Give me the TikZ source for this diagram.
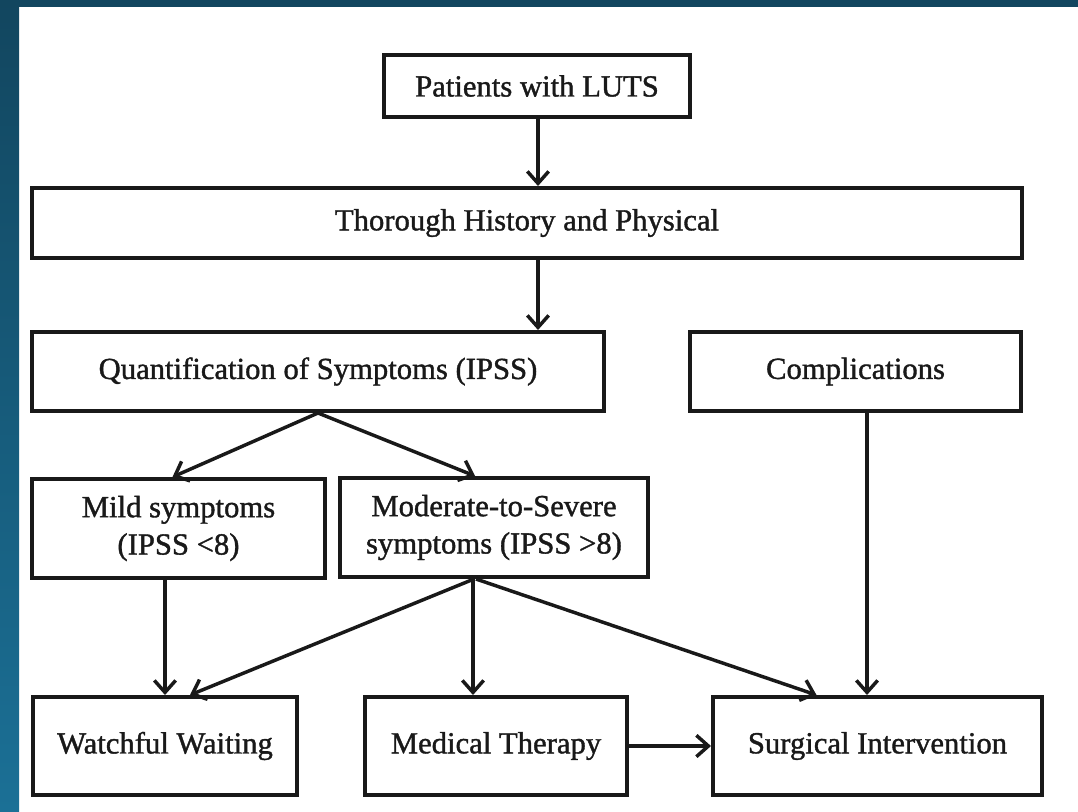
\documentclass[tikz,border=0pt]{standalone}
\usepackage{fontspec}
\setmainfont{Liberation Serif}[BoldFont={Liberation Serif}, BoldFeatures={FakeBold=1.2}]
\usetikzlibrary{arrows.meta,calc}
\definecolor{bgtop}{RGB}{18,70,95}
\definecolor{bgbot}{RGB}{27,112,150}
\definecolor{ink}{RGB}{25,25,25}
\tikzset{
  box/.style={draw=ink, line width=3pt, fill=white, rectangle, align=center,
    inner sep=0pt, text=ink, font=\fontsize{23}{28}\selectfont\bfseries},
  arr/.style={draw=ink, line width=2.6pt,
    -{Straight Barb[length=9pt,width=16pt,line width=2.6pt]}},
}
\begin{document}
\begin{tikzpicture}[x=0.75pt,y=-0.75pt]
\useasboundingbox (0,0) rectangle (1078,811);
\fill[white] (0,0) rectangle (1078,811);
\shade[top color=bgtop, bottom color=bgbot] (0,0) rectangle (19,811);
\fill[bgtop] (0,0) rectangle (1078,7);

\node[box, minimum width=229.5pt, minimum height=46.5pt] (luts) at (537,86) {Patients with LUTS};
\node[box, minimum width=742.5pt, minimum height=52.5pt] (hist) at (527,223) {Thorough History and Physical};
\node[box, minimum width=429pt, minimum height=59.25pt] (quant) at (318,371.5) {Quantification of Symptoms (IPSS)};
\node[box, minimum width=248.25pt, minimum height=59.25pt] (comp) at (855.5,371.5) {Complications};
\node[box, minimum width=219.75pt, minimum height=74.25pt] (mild) at (178.5,528.5) {Mild symptoms\\(IPSS <8)};
\node[box, minimum width=231pt, minimum height=74.25pt] (mod) at (494,527.5) {Moderate-to-Severe\\symptoms (IPSS >8)};
\node[box, minimum width=198pt, minimum height=73.5pt] (watch) at (165,746) {Watchful Waiting};
\node[box, minimum width=196.5pt, minimum height=73.5pt] (med) at (496,746) {Medical Therapy};
\node[box, minimum width=246.75pt, minimum height=73.5pt] (surg) at (877.5,746) {Surgical Intervention};

\coordinate (c1) at (538,0);
\coordinate (c2) at (867,0);

\draw[arr] (c1 |- luts.south) -- (c1 |- hist.north);
\draw[arr] (c1 |- hist.south) -- (c1 |- quant.north);
\draw[arr] (quant.south) -- ($(mild.north)+(-6,0)$);
\draw[arr] (quant.south) -- ($(mod.north)+(-19,0)$);
\draw[arr] (watch.north |- mild.south) -- (watch.north);
\draw[arr] ($(mod.south)+(-20,0)$) -- ($(watch.north)+(25,0)$);
\draw[arr] ($(mod.south)+(-21,0)$) -- ($(med.north)+(-23,0)$);
\draw[arr] ($(mod.south)+(-18,0)$) -- ($(surg.north)+(-61,0)$);
\draw[arr] (c2 |- comp.south) -- (c2 |- surg.north);
\draw[arr] (med.east) -- (surg.west);
\end{tikzpicture}
\end{document}
